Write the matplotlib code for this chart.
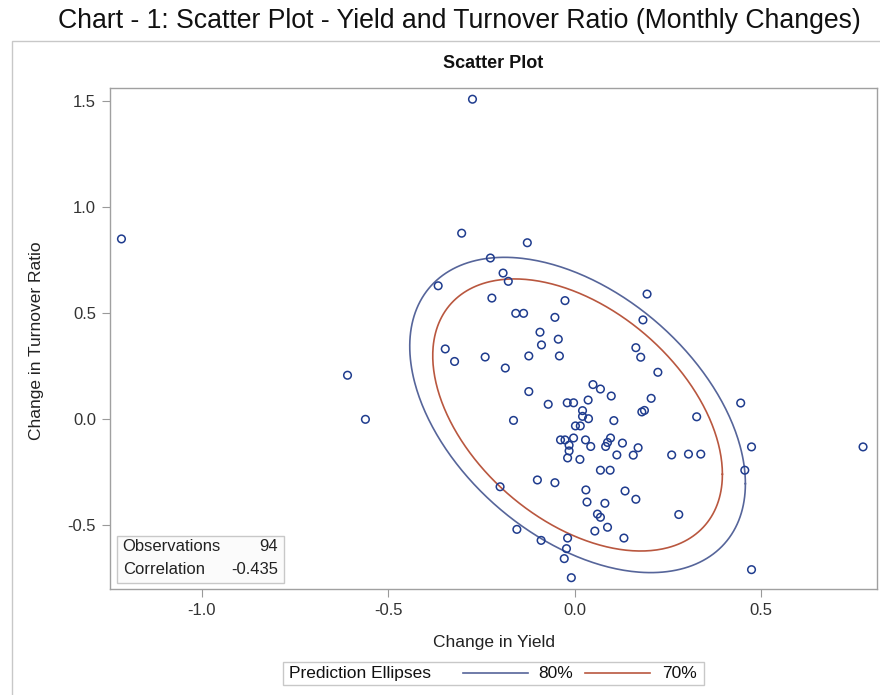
import numpy as np
import matplotlib
matplotlib.use("Agg")
from matplotlib import pyplot as plt
from matplotlib.patches import Rectangle
from matplotlib.lines import Line2D

plt.rcParams['font.family'] = ['Liberation Sans', 'DejaVu Sans']

# monthly changes: yield (x) vs turnover ratio (y)
yield_change = [
    -0.274, -1.215, -0.303, -0.127, -0.226, -0.192, -0.178, -0.366, -0.222, -0.158,
    -0.137, -0.093, -0.089, -0.123, -0.347, -0.322, -0.240, -0.186, -0.609, 0.194,
    -0.026, -0.053, 0.183, -0.044, 0.164, 0.177, -0.041, 0.223, 0.049, 0.069,
    0.098, -0.123, 0.036, 0.205, -0.071, -0.020, -0.003, 0.021, 0.180, 0.187,
    0.021, 0.327, 0.037, 0.105, -0.164, 0.002, 0.015, -0.038, -0.026, -0.003,
    0.029, 0.096, 0.088, 0.083, 0.043, 0.128, -0.015, -0.015, 0.170, 0.113,
    0.157, 0.260, 0.305, 0.338, -0.019, 0.014, 0.069, 0.095, -0.100, -0.053,
    -0.200, 0.030, 0.135, 0.164, 0.033, 0.081, 0.279, 0.061, 0.069, 0.088,
    0.054, -0.155, -0.090, -0.019, 0.132, -0.022, -0.028, -0.009, 0.445, 0.474,
    0.773, 0.456, 0.474, -0.561,
]
turnover_change = [
    1.507, 0.848, 0.875, 0.830, 0.758, 0.687, 0.648, 0.627, 0.569, 0.497,
    0.497, 0.408, 0.348, 0.296, 0.329, 0.270, 0.291, 0.239, 0.205, 0.588,
    0.557, 0.478, 0.466, 0.375, 0.335, 0.290, 0.296, 0.219, 0.161, 0.140,
    0.107, 0.128, 0.088, 0.096, 0.068, 0.075, 0.075, 0.038, 0.032, 0.039,
    0.011, 0.009, 0.000, -0.009, -0.008, -0.034, -0.034, -0.100, -0.100, -0.091,
    -0.100, -0.091, -0.112, -0.131, -0.131, -0.115, -0.125, -0.152, -0.137, -0.171,
    -0.172, -0.171, -0.167, -0.167, -0.185, -0.192, -0.243, -0.243, -0.289, -0.302,
    -0.321, -0.336, -0.341, -0.380, -0.393, -0.399, -0.452, -0.450, -0.465, -0.512,
    -0.530, -0.522, -0.574, -0.563, -0.563, -0.613, -0.660, -0.750, 0.074, -0.133,
    -0.133, -0.243, -0.712, -0.003,
]
correlation = -0.435
ellipse_levels = [0.80, 0.70]
ellipse_labels = ["80%", "70%"]
ellipse_colors = ["#56659a", "#b9573f"]
x_ticks = [-1.0, -0.5, 0.0, 0.5]
y_ticks = [-0.5, 0.0, 0.5, 1.0, 1.5]

W, H = 880, 695


def fx(px):
    return px / W


def fy(py):
    return 1 - py / H


def prediction_ellipse(x, y, p, npts=400):
    # bivariate normal prediction ellipse, F(2, n-2) quantile in closed form
    n = len(x)
    nu = n - 2
    fq = nu / 2.0 * ((1 - p) ** (-2.0 / nu) - 1)
    c = np.sqrt(2.0 * (n - 1) * (n + 1) / (n * nu) * fq)
    data = np.vstack([x, y])
    mean = data.mean(axis=1)
    L = np.linalg.cholesky(np.cov(data))
    t = np.linspace(0, 2 * np.pi, npts)
    pts = mean[:, None] + c * L @ np.vstack([np.cos(t), np.sin(t)])
    return pts[0], pts[1]


fig = plt.figure(figsize=(W / 100, H / 100), dpi=100)

# outer frame
fig.patches.append(Rectangle((fx(12), fy(720)), fx(900) - fx(12), fy(41) - fy(720),
                             transform=fig.transFigure, fill=False,
                             edgecolor="#c8c8c8", linewidth=1.0))

fig.text(fx(459), fy(27.7), "Chart - 1: Scatter Plot - Yield and Turnover Ratio (Monthly Changes)",
         ha="center", va="baseline", fontsize=19.2, color="#111111")

ax = fig.add_axes([fx(110), fy(589), fx(877) - fx(110), fy(88.3) - fy(589)])
ax.set_xlim(-1.2457, 0.8104)
ax.set_ylim(-0.8033, 1.5585)

ax.scatter(yield_change, turnover_change, s=30, facecolors="none",
           edgecolors="#1f3c8e", linewidths=1.1, zorder=3)

for level, color in zip(ellipse_levels, ellipse_colors):
    ex, ey = prediction_ellipse(np.array(yield_change), np.array(turnover_change), level)
    ax.plot(ex, ey, color=color, linewidth=1.2, zorder=2)

ax.set_xticks(x_ticks)
ax.set_xticklabels([f"{v:.1f}" for v in x_ticks])
ax.set_yticks(y_ticks)
ax.set_yticklabels([f"{v:.1f}" for v in y_ticks])
ax.tick_params(direction="out", length=6, width=0.8, color="#9a9a9a",
               labelsize=12, labelcolor="#333333", pad=4)
for s in ax.spines.values():
    s.set_color("#a0a0a0")
    s.set_linewidth(1.0)

fig.text(fx(493.5), fy(63), "Scatter Plot", ha="center", va="center",
         fontsize=13, fontweight="bold", color="#111111")
fig.text(fx(494), fy(643), "Change in Yield", ha="center", va="center",
         fontsize=12.5, color="#222222")
fig.text(fx(37), fy(341), "Change in Turnover Ratio", ha="center", va="center",
         rotation=90, fontsize=12.5, color="#222222")

# statistics inset
fig.patches.append(Rectangle((fx(117.3), fy(582.7)), fx(284) - fx(117.3), fy(536) - fy(582.7),
                             transform=fig.transFigure, facecolor="#fbfbfb",
                             edgecolor="#c8c8c8", linewidth=1.0, zorder=5))
stats = [("Observations", f"{len(yield_change)}"), ("Correlation", f"{correlation:.3f}")]
for i, (name, val) in enumerate(stats):
    yy = fy(546.7 + i * 22.6)
    fig.text(fx(122.7), yy, name, ha="left", va="center", fontsize=12,
             color="#222222", zorder=6)
    fig.text(fx(278), yy, val, ha="right", va="center", fontsize=12,
             color="#222222", zorder=6)

# legend box
fig.patches.append(Rectangle((fx(283.3), fy(685)), fx(704) - fx(283.3), fy(661.7) - fy(685),
                             transform=fig.transFigure, facecolor="white",
                             edgecolor="#c8c8c8", linewidth=1.0))
fig.text(fx(289.3), fy(673.3), "Prediction Ellipses", ha="left", va="center",
         fontsize=12.5, color="#111111")
for (x0, x1, tx), label, color in zip([(463.3, 528.3, 538.3), (585, 650, 661.7)],
                                      ellipse_labels, ellipse_colors):
    fig.lines.append(Line2D([fx(x0), fx(x1)], [fy(673.3), fy(673.3)],
                            transform=fig.transFigure, color=color, linewidth=1.2))
    fig.text(fx(tx), fy(673.3), label, ha="left", va="center", fontsize=12.5,
             color="#111111")

fig.savefig("out.png", dpi=100)
